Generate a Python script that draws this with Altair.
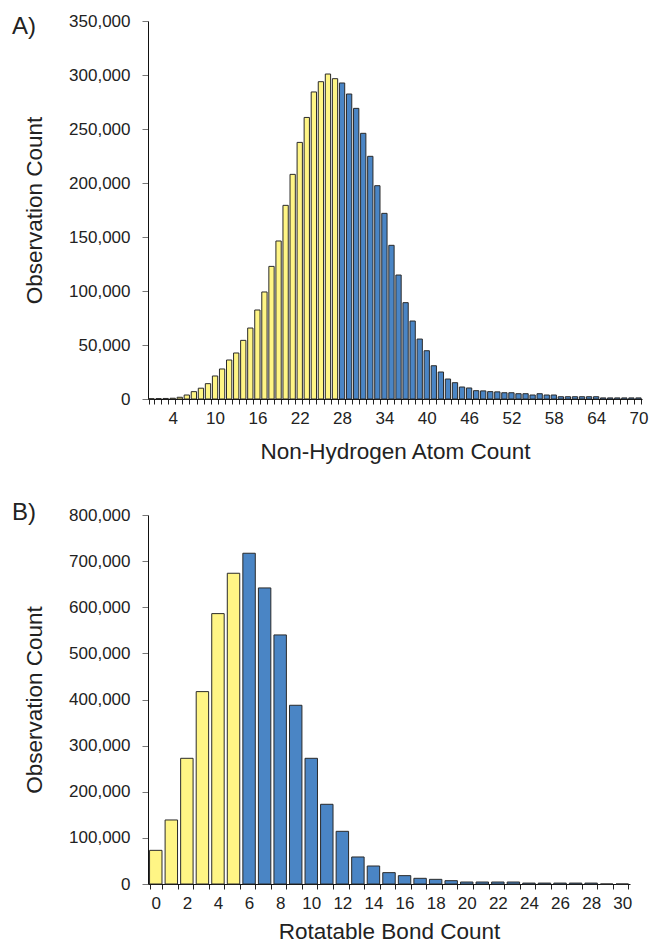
import altair as alt
import pandas as pd

# Panel A: non-hydrogen atom count 1..70
atom_counts = list(range(1, 71))
atom_obs = [300, 400, 500, 700, 1600, 3700, 6800, 10000, 14200, 21300,
            27800, 36100, 42600, 54300, 65700, 82400, 99100, 122800, 146300, 179300,
            208000, 237600, 260700, 284300, 293800, 300900, 296600, 292600, 282400, 269100,
            246000, 224700, 197500, 171900, 142300, 114800, 89200, 72200, 55500, 44700,
            30800, 25000, 18500, 15100, 11100, 10200, 7700, 7500, 6800, 6600,
            5800, 5800, 4900, 4900, 3700, 4900, 3700, 3700, 2100, 2100,
            2100, 2100, 2100, 2100, 1000, 1000, 1000, 1000, 1000, 1000]
atom_split = 27

# Panel B: rotatable bond count 0..30
bond_counts = list(range(0, 31))
bond_obs = [73000, 138800, 272500, 417100, 586200, 673700, 717100, 641900, 540000, 387500,
            272500, 172800, 114200, 58600, 39000, 24600, 18100, 12300, 10100, 7200,
            4300, 4300, 4300, 4300, 2000, 2000, 2000, 2000, 2000, 0, 0]
bond_split = 5

YELLOW = "#FFF585"
BLUE = "#4A85C5"
FONT = "Liberation Sans"

dfa = pd.DataFrame({"k": atom_counts, "v": atom_obs,
                    "g": ["low" if k <= atom_split else "high" for k in atom_counts]})
dfb = pd.DataFrame({"k": bond_counts, "v": bond_obs,
                    "g": ["low" if k <= bond_split else "high" for k in bond_counts]})

color_scale = alt.Scale(domain=["low", "high"], range=[YELLOW, BLUE])


def panel(df, xtitle, label_expr, ymax, ystep, w, h, tag, tag_y, pad_inner, xtitle_pad):
    bars = alt.Chart(df).mark_bar(stroke="#2a2a2a", strokeWidth=1).encode(
        x=alt.X("k:O", title=xtitle,
                scale=alt.Scale(paddingInner=pad_inner, paddingOuter=pad_inner / 2),
                axis=alt.Axis(labelAngle=0, labelExpr=label_expr, labelOverlap=False,
                              tickBand="extent", tickSize=5, tickColor="#222",
                              domainColor="#111", labelFontSize=17, labelPadding=6,
                              titleFontSize=22.5, titleFontWeight="normal", titlePadding=xtitle_pad,
                              labelColor="#222", titleColor="#222", labelFont=FONT, titleFont=FONT)),
        y=alt.Y("v:Q", title="Observation Count",
                scale=alt.Scale(domain=[0, ymax], nice=False),
                axis=alt.Axis(values=list(range(0, ymax + 1, ystep)), format=",.0f",
                              tickSize=6, tickColor="#777", domainColor="#111",
                              labelFontSize=17, labelPadding=12, titleFontSize=22.5,
                              titleFontWeight="normal", titlePadding=22, grid=False,
                              labelColor="#222", titleColor="#222", labelFont=FONT, titleFont=FONT)),
        color=alt.Color("g:N", scale=color_scale, legend=None),
    )
    tagtext = alt.Chart(pd.DataFrame({"t": [tag]})).mark_text(
        align="left", baseline="middle", fontSize=24, font=FONT, color="#222"
    ).encode(x=alt.value(-136), y=alt.value(tag_y), text="t:N")
    return alt.layer(bars, tagtext).properties(width=w, height=h)


a = panel(dfa, "Non-Hydrogen Atom Count", "datum.value % 6 == 4 ? datum.label : ''",
          350000, 50000, 494, 378, "A)", 6, 0.25, 14)
b = panel(dfb, "Rotatable Bond Count", "datum.value % 2 == 0 ? datum.label : ''",
          800000, 100000, 482, 369, "B)", -2, 0.2, 9)

chart = alt.vconcat(a, b, spacing=38).properties(
    padding={"left": 12, "top": 12, "right": 5, "bottom": 5}
).configure(font=FONT).configure_view(stroke=None)

chart.save("out.html", embed_options={"renderer": "svg", "actions": False})
